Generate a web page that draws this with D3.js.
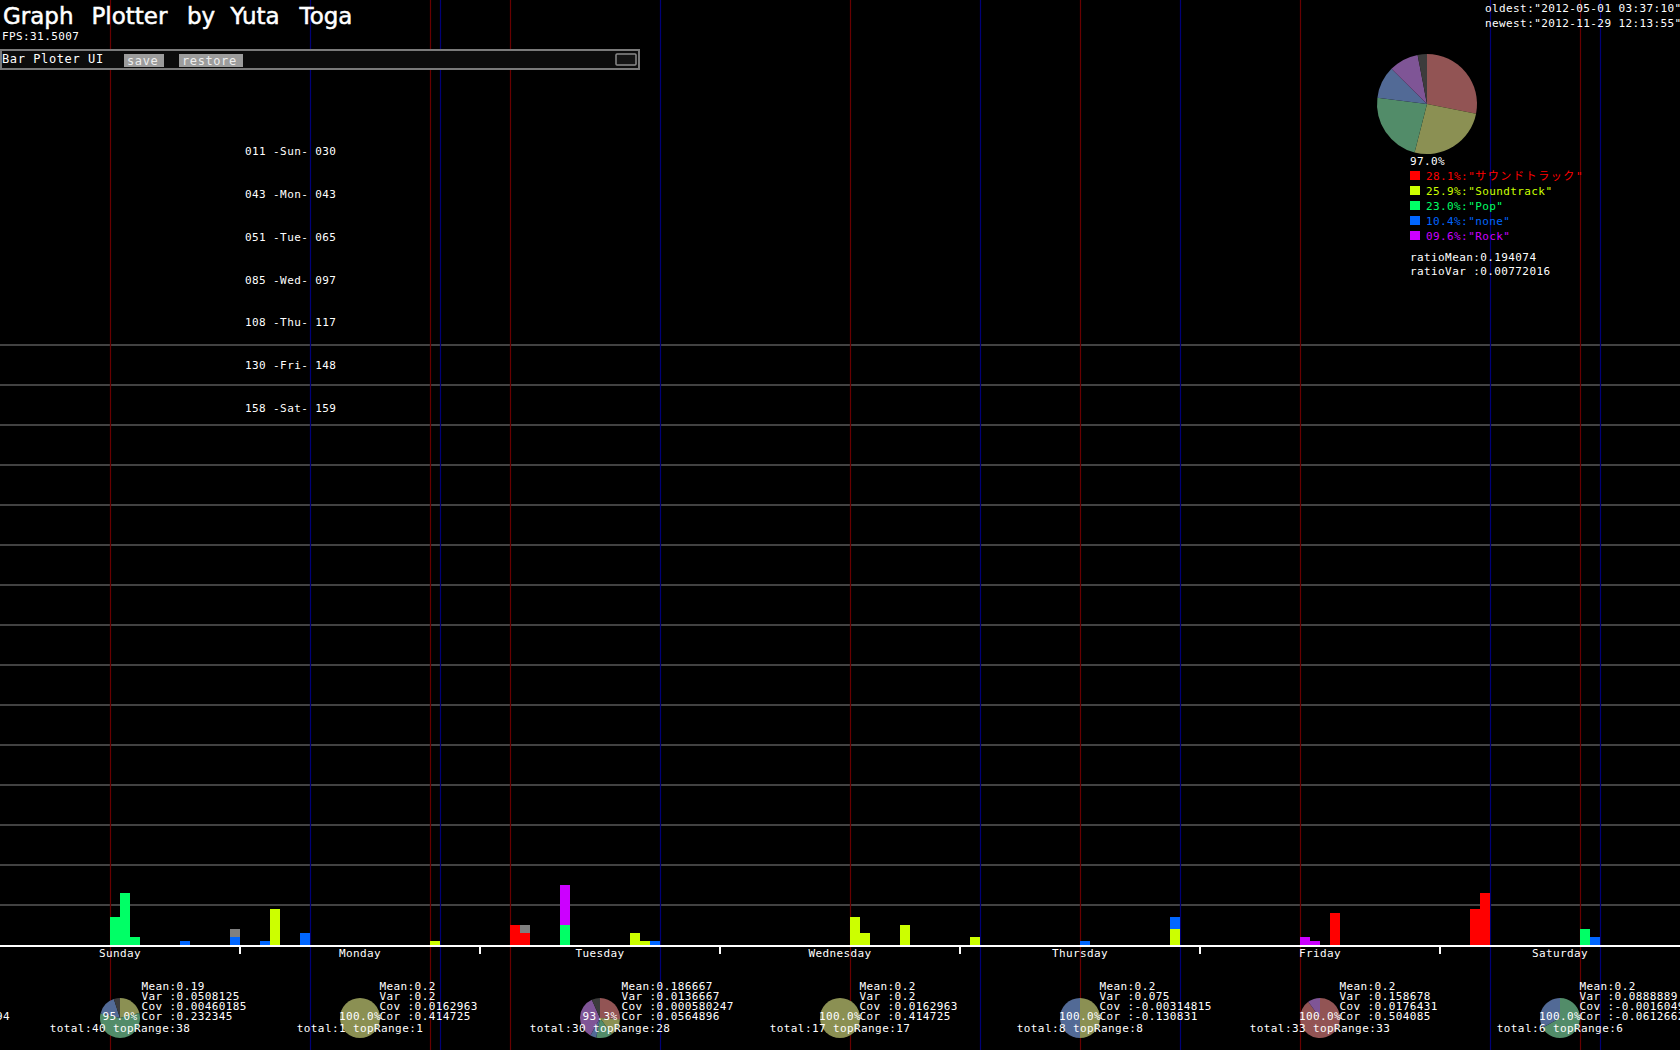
<!DOCTYPE html>
<html>
<head>
<meta charset="utf-8">
<script src="https://cdn.jsdelivr.net/npm/d3@7"></script>
<style>
  html, body { margin: 0; padding: 0; background: #000; overflow: hidden; }
  svg { display: block; }
  .mono { font-family: "DejaVu Sans Mono", "Liberation Mono", "Noto Sans CJK JP", monospace; font-size: 11px; letter-spacing: 0.4px; fill: #fff; }
</style>
</head>
<body>
<script>
// ---------------- DATA ----------------
const genreKeys   = ["サウンドトラック", "Soundtrack", "Pop", "none", "Rock", "other"];
const barColors   = ["#ff0000", "#ccff00", "#00ff66", "#0066ff", "#cc00ff", "#808080"];
const pieColors   = ["#925454", "#8b9053", "#528c69", "#526a96", "#7f5596", "#3c3c3c"];

// [hour-of-week, count]
const seriesSoundtrackJP = [[51,5],[52,3],[133,8],[147,9],[148,13]];
const seriesSoundtrack   = [[27,9],[43,1],[63,3],[64,1],[85,7],[86,3],[90,5],[97,2],[117,4]];
const seriesPop          = [[11,7],[12,13],[13,2],[56,5],[158,4]];
const seriesNone         = [[18,1],[23,2],[26,1],[30,3],[65,1],[108,1],[117,3],[159,2]];
const seriesRock         = [[56,10],[130,2],[131,1]];
const seriesOther        = [[23,2],[52,2]];

const days      = ["Sunday","Monday","Tuesday","Wednesday","Thursday","Friday","Saturday"];
const dayAbbr   = ["Sun","Mon","Tue","Wed","Thu","Fri","Sat"];
const rangeFrom = ["011","043","051","085","108","130","158"];
const rangeTo   = ["030","043","065","097","117","148","159"];

const statMean  = ["0.19","0.2","0.186667","0.2","0.2","0.2","0.2"];
const statVar   = ["0.0508125","0.2","0.0136667","0.2","0.075","0.158678","0.0888889"];
const statCov   = ["0.00460185","0.0162963","0.000580247","0.0162963","-0.00314815","0.0176431","-0.00160494"];
const statCor   = ["0.232345","0.414725","0.0564896","0.414725","-0.130831","0.504085","-0.0612662"];
const statPct   = ["95.0%","100.0%","93.3%","100.0%","100.0%","100.0%","100.0%"];
const statTotal = [40,1,30,17,8,33,6];
const statTop   = [38,1,28,17,8,33,6];
// per-day pie shares, in genreKeys order
const dayPieShares = [
  [0, 21, 57.7, 16.3, 0, 5],
  [0, 100, 0, 0, 0, 0],
  [26, 14, 13, 5, 35.3, 6.7],
  [0, 100, 0, 0, 0, 0],
  [0, 50, 0, 50, 0, 0],
  [90, 0, 0, 0, 10, 0],
  [0, 0, 67, 33, 0, 0]
];

const legendPct   = ["28.1","25.9","23.0","10.4","09.6"];
const legendTotal = "97.0%";
const ratioMean   = "0.194074";
const ratioVar    = "0.00772016";
const oldest      = "2012-05-01 03:37:10";
const newest      = "2012-11-29 12:13:55";
const fps         = "31.5007";
const titleWords  = ["Graph","Plotter","by","Yuta","Toga"];

// ---------------- CHART ----------------
const W = 1680, H = 1050;
const svg = d3.select("body").append("svg").attr("width", W).attr("height", H);
svg.append("rect").attr("width", W).attr("height", H).attr("fill", "#000");

const x = d3.scaleLinear().domain([0, 168]).range([0, 1680]);
const y = d3.scaleLinear().domain([0, 150]).range([945, 345]);
const bw = x(1) - x(0);

// gridlines
svg.append("g").selectAll("line").data(y.ticks(15).filter(v => v > 0)).join("line")
  .attr("x1", 0).attr("x2", W).attr("y1", d => y(d)).attr("y2", d => y(d))
  .attr("stroke", "#585858").attr("stroke-width", 1.6);

// range marker lines
const vl = svg.append("g");
vl.selectAll("line.s").data(rangeFrom).join("line").attr("class","s")
  .attr("x1", d => x(+d) + 0.5).attr("x2", d => x(+d) + 0.5).attr("y1", 0).attr("y2", H)
  .attr("stroke", "#680000").attr("stroke-width", 1.2);
vl.selectAll("line.e").data(rangeTo).join("line").attr("class","e")
  .attr("x1", d => x(+d + 1) + 0.5).attr("x2", d => x(+d + 1) + 0.5).attr("y1", 0).attr("y2", H)
  .attr("stroke", "#000078").attr("stroke-width", 1.2);

// stacked bars
const allSeries = [seriesSoundtrackJP, seriesSoundtrack, seriesPop, seriesNone, seriesRock, seriesOther];
const table = d3.range(168).map(h => {
  const row = { hour: h };
  genreKeys.forEach((k, i) => { const f = allSeries[i].find(p => p[0] === h); row[k] = f ? f[1] : 0; });
  return row;
});
const stacked = d3.stack().keys(genreKeys)(table);
svg.append("g").selectAll("g").data(stacked).join("g")
  .attr("fill", (d, i) => barColors[i])
  .selectAll("rect").data(d => d.filter(s => s[1] > s[0])).join("rect")
  .attr("x", d => x(d.data.hour)).attr("width", bw)
  .attr("y", d => y(d[1])).attr("height", d => y(d[0]) - y(d[1]));

// baseline + day ticks
svg.append("line").attr("x1", 0).attr("x2", W).attr("y1", y(0) + 1).attr("y2", y(0) + 1)
  .attr("stroke", "#fff").attr("stroke-width", 2);
svg.append("g").selectAll("line").data(d3.range(1, 7)).join("line")
  .attr("x1", d => x(d * 24)).attr("x2", d => x(d * 24)).attr("y1", y(0)).attr("y2", y(0) + 9)
  .attr("stroke", "#fff").attr("stroke-width", 2);

// day labels
svg.append("g").selectAll("text").data(days).join("text").attr("class", "mono")
  .attr("x", (d, i) => x(i * 24 + 12)).attr("y", 957).attr("text-anchor", "middle").text(d => d);

// day range list
svg.append("g").selectAll("text").data(days).join("text").attr("class", "mono")
  .attr("x", 245).attr("y", (d, i) => 155 + i * 42.86)
  .text((d, i) => `${rangeFrom[i]} -${dayAbbr[i]}- ${rangeTo[i]}`);

// per-day pies + stats
const pie = d3.pie().sort(null).value(d => d);
const arcSmall = d3.arc().innerRadius(0).outerRadius(20);
days.forEach((dname, i) => {
  const cx = x(i * 24 + 12), cy = 1018;
  const g = svg.append("g").attr("transform", `translate(${cx},${cy})`);
  g.selectAll("path").data(pie(dayPieShares[i])).join("path")
    .attr("d", arcSmall).attr("fill", (d, j) => pieColors[j]);
  const t = svg.append("g");
  const sx = cx + (statPct[i].length < 6 ? 21.5 : 19.5);
  const lines = [`Mean:${statMean[i]}`, `Var :${statVar[i]}`, `Cov :${statCov[i]}`, `Cor :${statCor[i]}`];
  lines.forEach((s, k) => t.append("text").attr("class", "mono").attr("x", sx).attr("y", 990 + k * 10).text(s));
  t.append("text").attr("class", "mono").attr("x", cx).attr("y", 1020).attr("text-anchor", "middle").text(statPct[i]);
  t.append("text").attr("class", "mono").attr("x", cx).attr("y", 1032).attr("text-anchor", "middle")
    .text(`total:${statTotal[i]} topRange:${statTop[i]}`);
});
svg.append("text").attr("class", "mono").attr("x", -4).attr("y", 1020).text("94");

// ---------- top-right summary pie ----------
const bigVals = legendPct.map(Number);
bigVals.push(100 - d3.sum(bigVals));
const arcBig = d3.arc().innerRadius(0).outerRadius(50);
svg.append("g").attr("transform", "translate(1427,104)")
  .selectAll("path").data(pie(bigVals)).join("path")
  .attr("d", arcBig).attr("fill", (d, j) => pieColors[j]);

svg.append("text").attr("class", "mono").attr("x", 1410).attr("y", 165).text(legendTotal);
const lg = svg.append("g");
legendPct.forEach((p, i) => {
  const by = 180 + i * 15;
  lg.append("rect").attr("x", 1410).attr("y", by - 9).attr("width", 10).attr("height", 9).attr("fill", barColors[i]);
  const tx = lg.append("text").attr("class", "mono").attr("x", 1426).attr("y", by).style("fill", barColors[i]);
  tx.append("tspan").text(`${p}%:"`);
  const isCJK = /[\u3000-\u30ff]/.test(genreKeys[i]);
  tx.append("tspan").style("letter-spacing", isCJK ? "1.6px" : null).text(genreKeys[i]);
  tx.append("tspan").text('"');
});
svg.append("text").attr("class", "mono").attr("x", 1410).attr("y", 261).text(`ratioMean:${ratioMean}`);
svg.append("text").attr("class", "mono").attr("x", 1410).attr("y", 275).text(`ratioVar :${ratioVar}`);

svg.append("text").attr("class", "mono").attr("x", 1485).attr("y", 12).text(`oldest:"${oldest}"`);
svg.append("text").attr("class", "mono").attr("x", 1485).attr("y", 27).text(`newest:"${newest}"`);

// ---------- top-left header ----------
const titleX = [3, 91.5, 187, 230.5, 299.5];
const title = svg.append("text").attr("y", 23.5)
  .style("font-family", "'DejaVu Sans', sans-serif").style("font-size", "23px")
  .style("fill", "#fff").style("stroke", "#fff").style("stroke-width", "0.5px");
titleWords.forEach((w, i) => title.append("tspan").attr("x", titleX[i]).text(w));

svg.append("text").attr("class", "mono").attr("x", 2).attr("y", 40).text(`FPS:${fps}`);

// UI panel
svg.append("rect").attr("x", 1).attr("y", 50).attr("width", 638).attr("height", 19)
  .attr("fill", "#0c0c0c").attr("stroke", "#7a7a7a").attr("stroke-width", 2);
svg.append("text").attr("class", "mono").attr("x", 2).attr("y", 63)
  .style("font-size", "12px").style("letter-spacing", "0.6px").text("Bar Ploter UI");
[["save", 124, 40], ["restore", 179, 64]].forEach(([lab, bx, bwid]) => {
  svg.append("rect").attr("x", bx).attr("y", 54).attr("width", bwid).attr("height", 13).attr("fill", "#9c9c9c");
  svg.append("text").attr("class", "mono").attr("x", bx + 3).attr("y", 64.5)
    .style("font-size", "12px").style("letter-spacing", "0.6px").style("fill", "#eeeeee").text(lab);
});
svg.append("rect").attr("x", 616).attr("y", 54).attr("width", 20).attr("height", 11).attr("rx", 1)
  .attr("fill", "#151515").attr("stroke", "#8a8a8a").attr("stroke-width", 1.5);
</script>
</body>
</html>
